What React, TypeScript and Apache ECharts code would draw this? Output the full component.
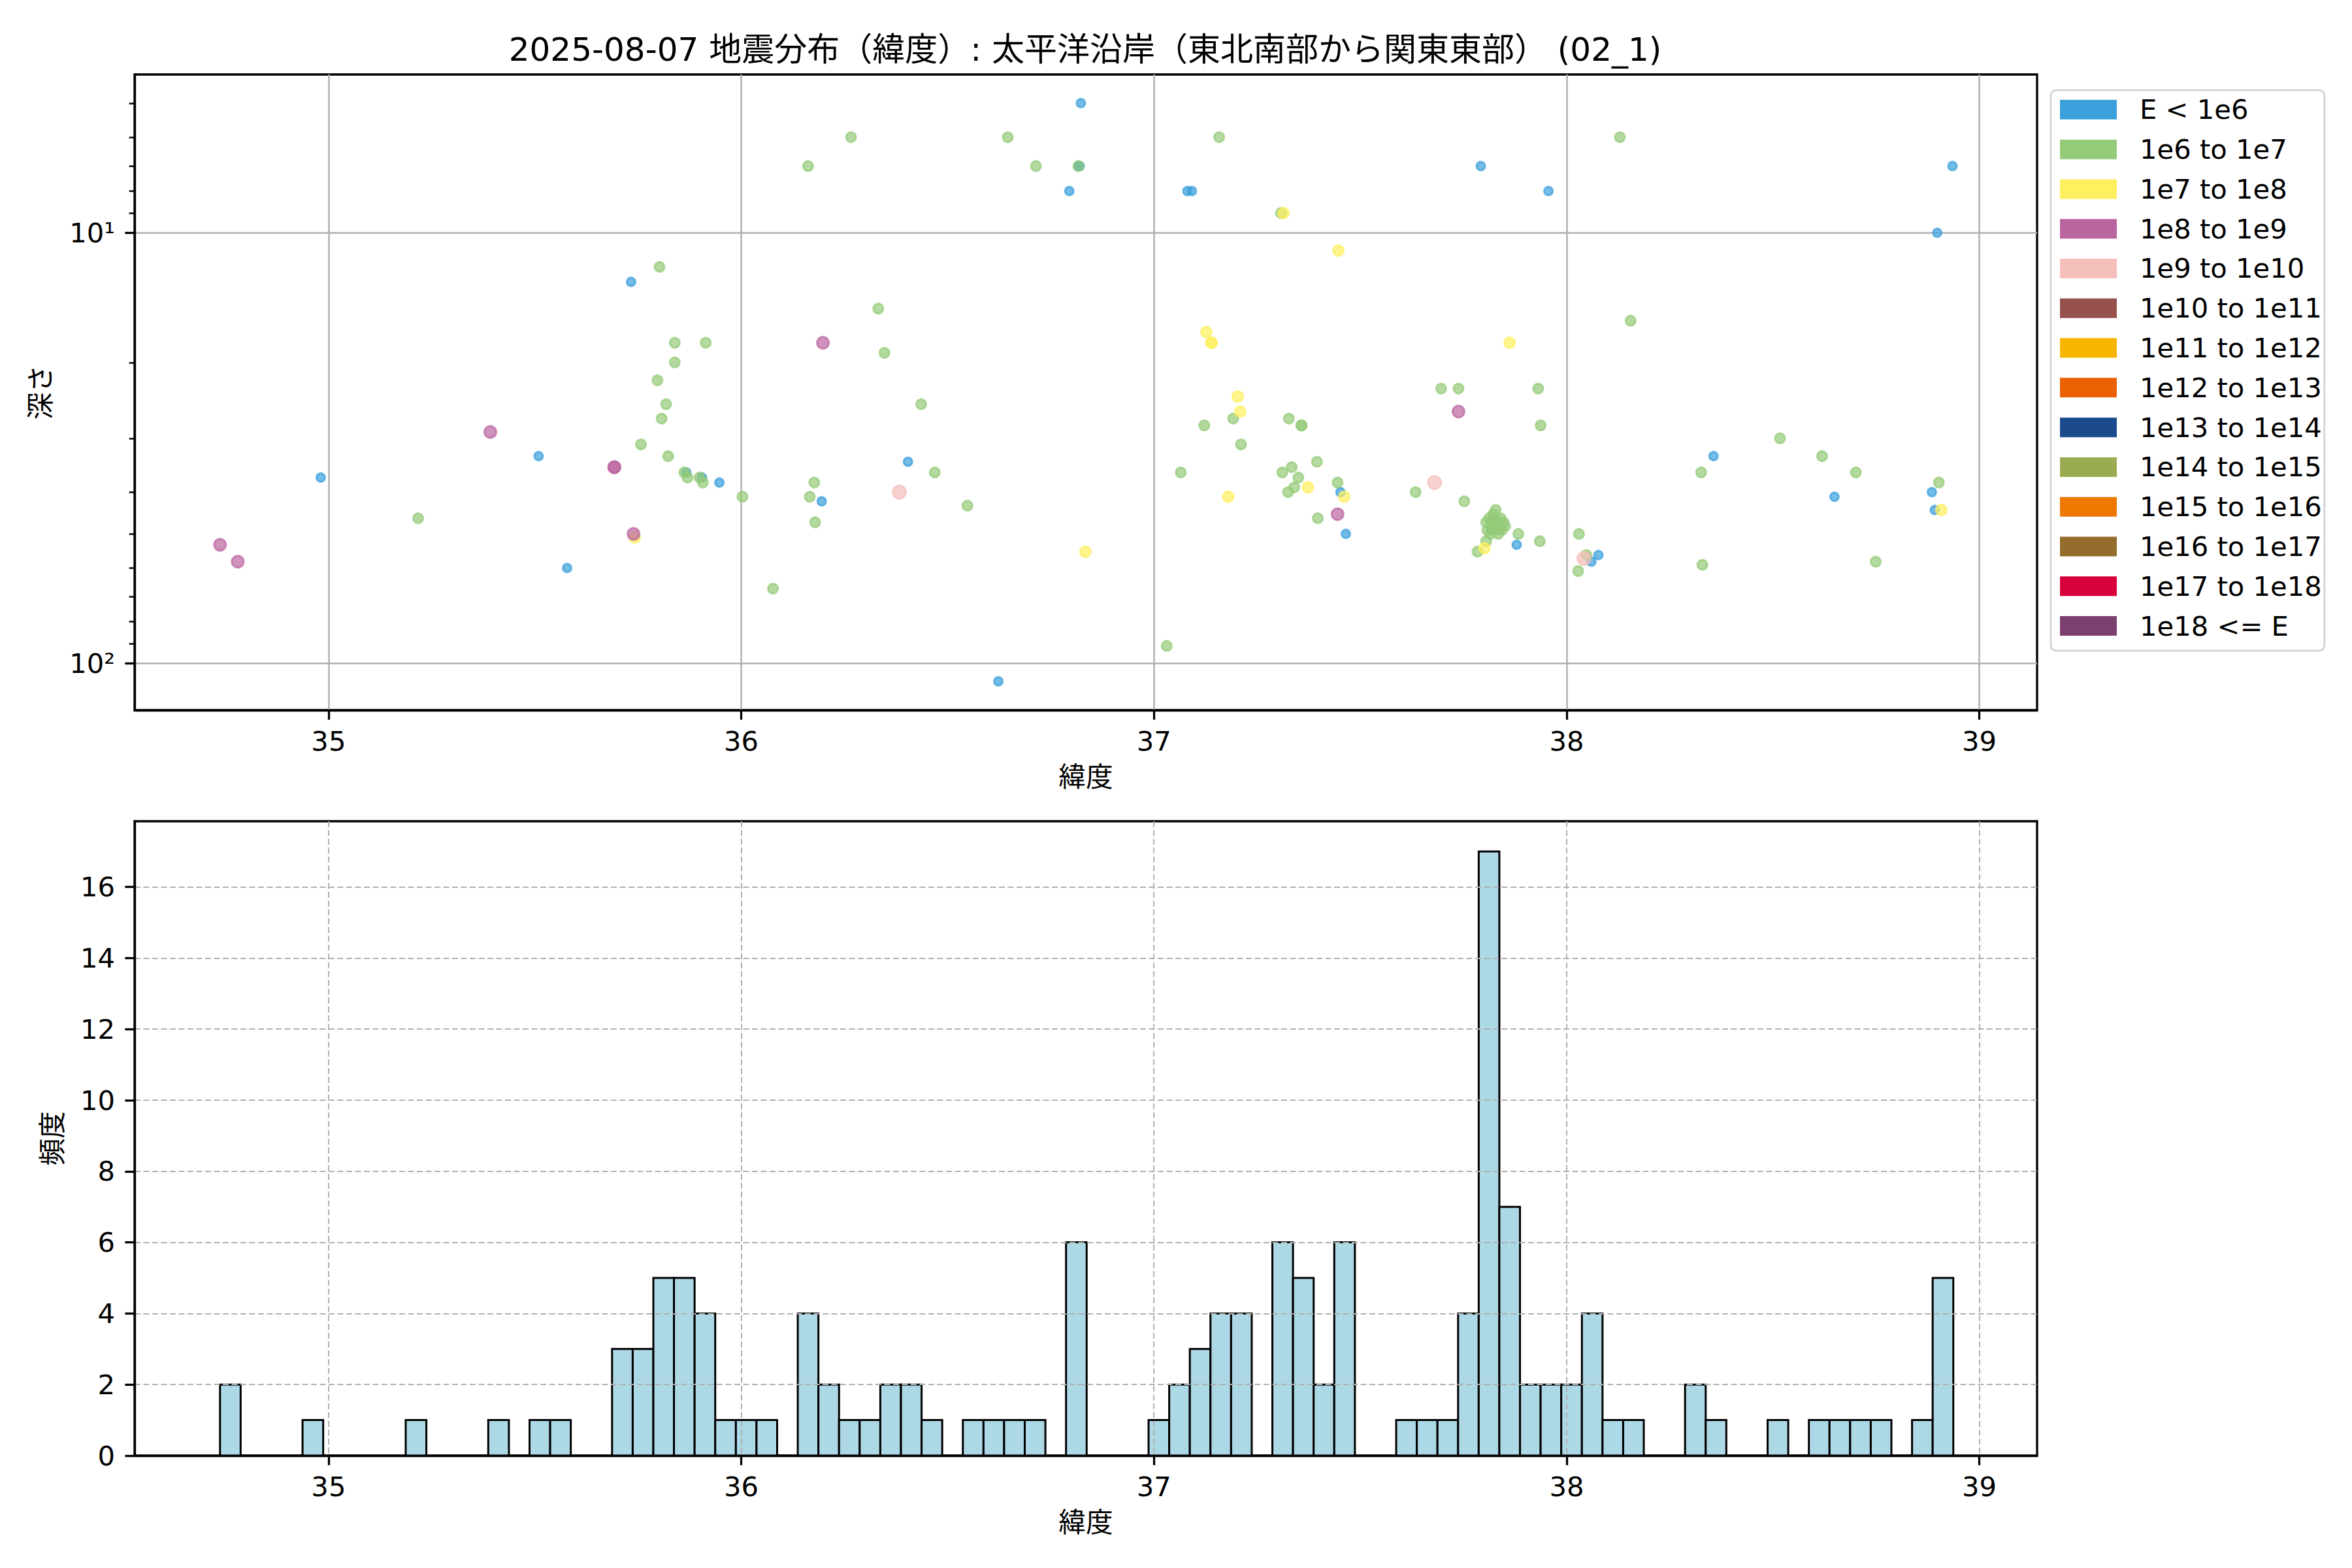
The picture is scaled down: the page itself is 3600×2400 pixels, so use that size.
import React, { useEffect, useRef } from 'react';
import * as echarts from 'echarts';

const TITLE = '2025-08-07 地震分布（緯度）: 太平洋沿岸（東北南部から関東東部） (02_1)';
const FONT = '"DejaVu Sans", "Noto Sans CJK JP", "Noto Sans CJK SC", sans-serif';

const ENERGY_CLASSES = [
  'E < 1e6', '1e6 to 1e7', '1e7 to 1e8', '1e8 to 1e9', '1e9 to 1e10', '1e10 to 1e11',
  '1e11 to 1e12', '1e12 to 1e13', '1e13 to 1e14', '1e14 to 1e15', '1e15 to 1e16',
  '1e16 to 1e17', '1e17 to 1e18', '1e18 <= E',
];
const CLASS_COLORS = [
  '#3A9FDB', '#94CB78', '#FEF05E', '#BB65A0', '#F5BFBB', '#96514D', '#F8B500',
  '#EB6101', '#1B4A8D', '#9AAC51', '#EE7800', '#946D2C', '#D7003A', '#7B3F70',
];
const CLASS_SIZES = [13, 15, 16, 18, 20, 21, 22, 23, 24, 25, 26, 27, 28, 29];

// [latitude, depth km]
const PTS_E6: [number, number][] = [
  [34.981, 37], [35.509, 33], [35.578, 60], [35.733, 13], [35.867, 36], [35.905, 37],
  [35.947, 38], [36.195, 42], [36.404, 34], [36.623, 110], [36.817, 7], [36.820, 7],
  [36.795, 8], [36.823, 5], [37.081, 8], [37.092, 8], [37.452, 40], [37.465, 50],
  [37.792, 7], [37.817, 49], [37.879, 53], [37.956, 8], [38.077, 56], [38.060, 58],
  [38.356, 33], [38.649, 41], [38.885, 40], [38.892, 44], [38.898, 10], [38.935, 7],
];
const PTS_E7: [number, number][] = [
  [35.217, 46], [35.757, 31], [35.797, 22], [35.802, 12], [35.807, 27], [35.818, 25],
  [35.823, 33], [35.839, 18], [35.839, 20], [35.862, 36], [35.870, 37], [35.899, 37],
  [35.907, 38], [35.914, 18], [36.003, 41], [36.077, 67], [36.162, 7], [36.166, 41],
  [36.177, 38], [36.179, 47], [36.266, 6], [36.332, 15], [36.347, 19], [36.436, 25],
  [36.469, 36], [36.548, 43], [36.646, 6], [36.714, 7], [36.817, 7], [37.031, 91],
  [37.065, 36], [37.122, 28], [37.158, 6], [37.192, 27], [37.211, 31], [37.308, 9],
  [37.311, 36], [37.325, 40], [37.327, 27], [37.334, 35], [37.340, 39], [37.350, 37],
  [37.357, 28], [37.358, 28], [37.395, 34], [37.397, 46], [37.445, 38], [37.634, 40],
  [37.696, 23], [37.738, 23], [37.752, 42], [37.784, 55], [37.805, 52],
  [37.805, 47], [37.808, 49], [37.812, 46], [37.815, 50], [37.818, 47], [37.820, 48],
  [37.822, 45], [37.825, 49], [37.827, 46], [37.828, 44], [37.830, 47], [37.832, 48],
  [37.834, 50], [37.840, 46], [37.843, 49], [37.847, 47], [37.851, 48],
  [37.883, 50], [37.931, 23], [37.935, 52], [37.937, 28], [38.028, 61], [38.030, 50],
  [38.048, 56], [38.129, 6], [38.155, 16], [38.326, 36], [38.329, 59], [38.517, 30],
  [38.619, 33], [38.701, 36], [38.749, 58], [38.902, 38],
];
const PTS_E8: [number, number][] = [
  [35.742, 51], [36.834, 55], [37.127, 17], [37.139, 18], [37.140, 18], [37.180, 41],
  [37.203, 24], [37.209, 26], [37.314, 9], [37.373, 39], [37.447, 11], [37.461, 41],
  [37.801, 54], [37.862, 18], [38.908, 44],
];
const PTS_E9: [number, number][] = [
  [34.737, 53], [34.780, 58], [35.392, 29], [35.692, 35], [35.693, 35], [35.739, 50],
  [36.198, 18], [37.445, 45], [37.738, 26],
];
const PTS_E10: [number, number][] = [[36.383, 40], [37.680, 38], [38.042, 57]];

const CLASS_POINTS: [number, number][][] = [
  PTS_E6, PTS_E7, PTS_E8, PTS_E9, PTS_E10, [], [], [], [], [], [], [], [], [],
];

const BIN_START = 34.737;
const BIN_WIDTH = 0.05;
const HIST_COUNTS = [
  2, 0, 0, 0, 1, 0, 0, 0, 0, 1,
  0, 0, 0, 1, 0, 1, 1, 0, 0, 3,
  3, 5, 5, 4, 1, 1, 1, 0, 4, 2,
  1, 1, 2, 2, 1, 0, 1, 1, 1, 1,
  0, 6, 0, 0, 0, 1, 2, 3, 4, 4,
  0, 6, 5, 2, 6, 0, 0, 1, 1, 1,
  4, 17, 7, 2, 2, 2, 4, 1, 1, 0,
  0, 2, 1, 0, 0, 1, 0, 1, 1, 1,
  1, 0, 1, 5,
];

const LAT_TICKS = [35, 36, 37, 38, 39];
const DEPTH_MAJOR = [10, 100];
const DEPTH_MINOR = [5, 6, 7, 8, 9, 20, 30, 40, 50, 60, 70, 80, 90];
const COUNT_TICKS = [0, 2, 4, 6, 8, 10, 12, 14, 16];

const X_MIN = 34.53;
const X_MAX = 39.14;
const DEPTH_MIN = 4.29;
const DEPTH_MAX = 128.3;
const COUNT_MAX = 17.85;

const FS = 41.7;
const SUP: Record<number, string> = { 0: '⁰', 1: '¹', 2: '²', 3: '³' };

function measure(text: string, font: string): number {
  const c = document.createElement('canvas').getContext('2d');
  if (!c) return text.length * 40;
  c.font = font;
  return c.measureText(text).width;
}

export default function App() {
  const ref = useRef<HTMLDivElement>(null);
  useEffect(() => {
    document.body.style.margin = '0';
    if (!ref.current) return;
    const chart = echarts.init(ref.current, null, { renderer: 'svg', width: 3600, height: 2400 });
    const titleW = measure(TITLE, `50px ${FONT}`);
    const axisText = { fontSize: FS, color: '#000', fontFamily: FONT };
    const blackLine = { color: '#000', width: 3.3 };

    const histData = HIST_COUNTS.map((c, i) => [BIN_START + i * BIN_WIDTH, BIN_START + (i + 1) * BIN_WIDTH, c]);

    const option: any = {
      animation: false,
      backgroundColor: '#fff',
      textStyle: { fontFamily: FONT },
      title: {
        text: TITLE,
        left: 1661 - titleW / 2,
        top: 51,
        padding: 0,
        textStyle: { fontSize: 50, fontWeight: 'normal', color: '#000', fontFamily: FONT },
      },
      legend: {
        orient: 'vertical',
        left: 3139,
        top: 138,
        padding: [9, 4, 17, 14],
        itemGap: 19.1,
        itemWidth: 87,
        itemHeight: 30,
        icon: 'rect',
        data: ENERGY_CLASSES,
        itemStyle: { opacity: 1, borderWidth: 0 },
        textStyle: { fontSize: FS, color: '#000', fontFamily: FONT, padding: [0, 0, 0, 30] },
        borderColor: '#d5d5d5',
        borderWidth: 3,
        borderRadius: 8,
        backgroundColor: '#fff',
        selectedMode: false,
      },
      grid: [
        { left: 206, top: 114, width: 2912, height: 973, show: true, borderColor: '#000', borderWidth: 3.3 },
        { left: 206, top: 1257, width: 2912, height: 971, show: true, borderColor: '#000', borderWidth: 3.3 },
      ],
      xAxis: [
        {
          gridIndex: 0, type: 'value', min: X_MIN, max: X_MAX,
          name: '緯度', nameLocation: 'middle', nameGap: 82, nameTextStyle: axisText,
          axisLine: { show: true, onZero: false, lineStyle: blackLine },
          axisTick: { show: true, length: 14.6, lineStyle: blackLine, customValues: LAT_TICKS },
          axisLabel: { customValues: LAT_TICKS, margin: 27, ...axisText },
          splitLine: { show: true, lineStyle: { color: '#b0b0b0', width: 2.5 } },
        },
        {
          gridIndex: 1, type: 'value', min: X_MIN, max: X_MAX, z: 3,
          name: '緯度', nameLocation: 'middle', nameGap: 82, nameTextStyle: axisText,
          axisLine: { show: true, onZero: false, lineStyle: blackLine },
          axisTick: { show: true, length: 14.6, lineStyle: blackLine, customValues: LAT_TICKS },
          axisLabel: { customValues: LAT_TICKS, margin: 27, ...axisText },
          splitLine: { show: true, lineStyle: { color: '#b0b0b0', width: 2, type: [9, 4.5] } },
        },
      ],
      yAxis: [
        {
          gridIndex: 0, type: 'log', logBase: 10, inverse: true, min: DEPTH_MIN, max: DEPTH_MAX,
          name: '深さ', nameLocation: 'middle', nameGap: 123, nameRotate: 90, nameTextStyle: axisText,
          axisLine: { show: true, onZero: false, lineStyle: blackLine },
          axisTick: { show: true, length: 14.6, lineStyle: blackLine, customValues: DEPTH_MAJOR },
          axisLabel: {
            customValues: DEPTH_MAJOR, margin: 30, ...axisText,
            formatter: (v: number) => '10' + (SUP[Math.round(Math.log10(v))] || ''),
          },
          splitLine: { show: true, lineStyle: { color: '#b0b0b0', width: 2.5 } },
        },
        {
          gridIndex: 0, type: 'log', logBase: 10, inverse: true, min: DEPTH_MIN, max: DEPTH_MAX,
          position: 'left', offset: 0,
          axisLine: { show: false },
          axisTick: { show: true, length: 8.3, lineStyle: { color: '#000', width: 2.5 }, customValues: DEPTH_MINOR },
          axisLabel: { show: false },
          splitLine: { show: false },
        },
        {
          gridIndex: 1, type: 'value', min: 0, max: COUNT_MAX, z: 3,
          name: '頻度', nameLocation: 'middle', nameGap: 105, nameRotate: 90, nameTextStyle: axisText,
          axisLine: { show: true, onZero: false, lineStyle: blackLine },
          axisTick: { show: true, length: 14.6, lineStyle: blackLine, customValues: COUNT_TICKS },
          axisLabel: { customValues: COUNT_TICKS, margin: 30, ...axisText },
          splitLine: { show: true, lineStyle: { color: '#b0b0b0', width: 2, type: [9, 4.5] } },
        },
      ],
      series: [
        ...ENERGY_CLASSES.map((name, i) => ({
          name,
          type: 'scatter',
          xAxisIndex: 0,
          yAxisIndex: 0,
          symbol: 'circle',
          symbolSize: CLASS_SIZES[i],
          data: CLASS_POINTS[i],
          itemStyle: { color: CLASS_COLORS[i], opacity: 0.7, borderColor: CLASS_COLORS[i], borderWidth: 3 },
          emphasis: { disabled: true },
        })),
        {
          name: '頻度',
          type: 'custom',
          xAxisIndex: 1,
          yAxisIndex: 2,
          data: histData,
          renderItem: (params: any, api: any) => {
            const p0 = api.coord([api.value(0), 0]);
            const p1 = api.coord([api.value(1), api.value(2)]);
            return {
              type: 'rect',
              shape: { x: p0[0], y: p1[1], width: p1[0] - p0[0], height: p0[1] - p1[1] },
              style: { fill: '#ADD8E6', stroke: '#000', lineWidth: 3 },
            };
          },
        },
      ],
    };
    chart.setOption(option);
    return () => chart.dispose();
  }, []);
  return <div ref={ref} style={{ position: 'absolute', left: 0, top: 0, width: 3600, height: 2400 }} />;
}
